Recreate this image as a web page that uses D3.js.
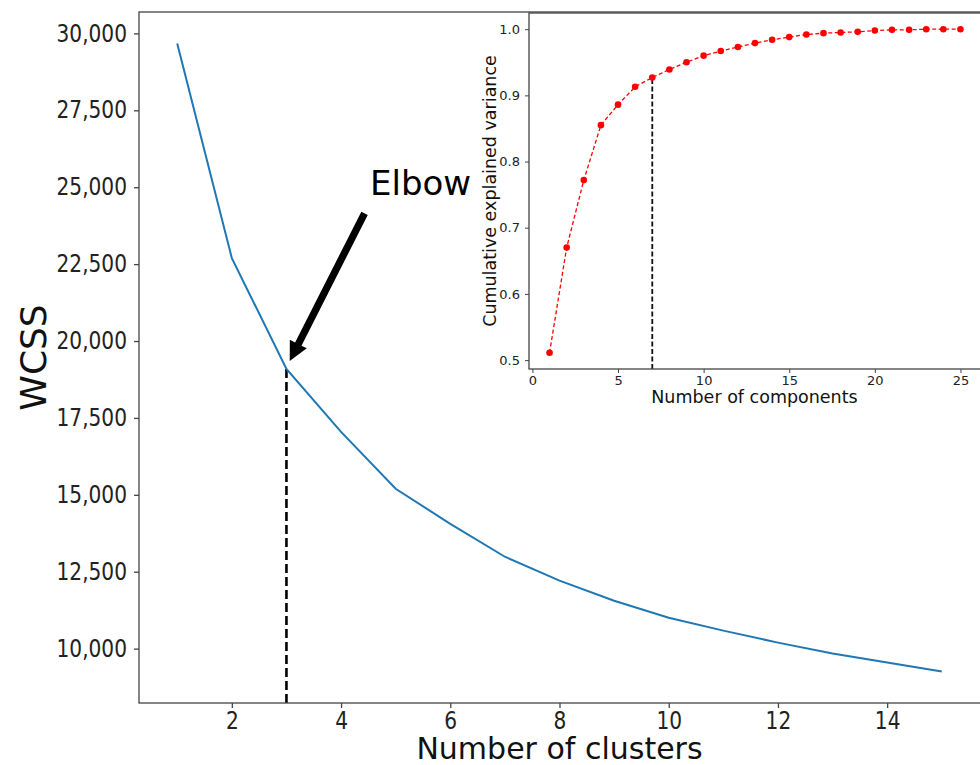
<!DOCTYPE html>
<meta charset="utf-8">
<style>
body { margin: 0; background: #fff; }
svg { display: block; font-family: "DejaVu Sans", sans-serif; }
.axis path, .axis line { stroke: #444; }
.axis text { fill: #222; }
</style>
<body>
<svg id="chart" width="980" height="765"></svg>
<script src="https://cdn.jsdelivr.net/npm/d3@7"></script>
<script>

// elbow curve
var clusters = [1, 2, 3, 4, 5, 6, 7, 8, 9, 10, 11, 12, 13, 14, 15];
var wcss = [29675, 22695, 19091, 17045, 15195, 14058, 12987, 12208, 11558, 11006, 10584, 10195, 9838, 9545, 9253];
var clusterTicks = [2, 4, 6, 8, 10, 12, 14];
var wcssTicks = [10000, 12500, 15000, 17500, 20000, 22500, 25000, 27500, 30000];
var elbowK = 3;

// inset: cumulative explained variance
var components = [1, 2, 3, 4, 5, 6, 7, 8, 9, 10, 11, 12, 13, 14, 15, 16, 17, 18, 19, 20, 21, 22, 23, 24, 25];
var cumVar = [0.511, 0.670, 0.772, 0.855, 0.886, 0.913, 0.927, 0.939, 0.950, 0.960, 0.967, 0.973, 0.979,
              0.984, 0.988, 0.992, 0.994, 0.995, 0.996, 0.998, 0.999, 0.999, 1.0, 1.0, 1.0];
var compTicks = [0, 5, 10, 15, 20, 25];
var varTicks = [0.5, 0.6, 0.7, 0.8, 0.9, 1.0];
var chosenComp = 7;

// annotation (data coords)
var elbowTip = [3.06, 19350], elbowTail = [4.43, 24150], elbowText = [4.53, 24750];

var svg = d3.select("#chart");

// matplotlib-like 5% padding
function pad(ext) { var m = (ext[1] - ext[0]) * 0.05; return [ext[0] - m, ext[1] + m]; }

var main = {left: 139, right: 980, top: 12, bottom: 703};
var x = d3.scaleLinear().domain(pad(d3.extent(clusters))).range([main.left, main.right]);
var y = d3.scaleLinear().domain(pad(d3.extent(wcss))).range([main.bottom, main.top]);

var sx = 0.84; // tick labels in the main chart look horizontally squeezed

var gx = svg.append("g")
    .attr("class", "axis")
    .attr("transform", "translate(0," + main.bottom + ")")
    .call(d3.axisBottom(x).tickValues(clusterTicks).tickSize(5).tickPadding(4).tickSizeOuter(0));
gx.select(".domain").remove();
gx.selectAll("line").attr("stroke-width", 1.3);
gx.selectAll("text")
    .attr("font-size", 24)
    .attr("font-family", "DejaVu Sans")
    .attr("transform", "scale(" + sx + ",1)");

var gy = svg.append("g")
    .attr("class", "axis")
    .attr("transform", "translate(" + main.left + ",0)")
    .call(d3.axisLeft(y).tickValues(wcssTicks).tickFormat(d3.format(",")).tickSize(5).tickSizeOuter(0));
gy.select(".domain").remove();
gy.selectAll("line").attr("stroke-width", 1.3);
gy.selectAll("text")
    .attr("font-size", 24)
    .attr("font-family", "DejaVu Sans")
    .attr("x", -12 / sx)
    .attr("transform", "scale(" + sx + ",1)");

// dashed elbow marker
svg.append("line")
    .attr("x1", x(elbowK)).attr("x2", x(elbowK))
    .attr("y1", main.bottom).attr("y2", y(wcss[clusters.indexOf(elbowK)]))
    .attr("stroke", "#000").attr("stroke-width", 2.6)
    .attr("stroke-dasharray", "9,4");

svg.append("path")
    .datum(clusters.map(function(d, i) { return [d, wcss[i]]; }))
    .attr("fill", "none")
    .attr("stroke", "#1f77b4")
    .attr("stroke-width", 2)
    .attr("d", d3.line().x(function(d) { return x(d[0]); }).y(function(d) { return y(d[1]); }));

// frame (right side runs off the picture)
svg.append("rect")
    .attr("x", main.left).attr("y", main.top)
    .attr("width", main.right + 2 - main.left).attr("height", main.bottom - main.top)
    .attr("fill", "none").attr("stroke", "#444").attr("stroke-width", 1.3);

svg.append("text")
    .attr("x", (main.left + main.right) / 2)
    .attr("y", 759)
    .attr("text-anchor", "middle")
    .attr("font-size", 30)
    .attr("fill", "#111")
    .text("Number of clusters");

svg.append("text")
    .attr("transform", "translate(46," + (main.top + main.bottom) / 2 + ") rotate(-90)")
    .attr("text-anchor", "middle")
    .attr("font-size", 36)
    .attr("fill", "#111")
    .text("WCSS");

// arrow
(function() {
  var x0 = x(elbowTail[0]), y0 = y(elbowTail[1]), x1 = x(elbowTip[0]), y1 = y(elbowTip[1]);
  var dx = x1 - x0, dy = y1 - y0, len = Math.sqrt(dx * dx + dy * dy);
  var ux = dx / len, uy = dy / len, nx = -uy, ny = ux;
  var hw = 3.6, headW = 9.5, headL = 19;
  var bx = x1 - ux * headL, by = y1 - uy * headL;
  var pts = [
    [x0 + nx * hw, y0 + ny * hw],
    [bx + nx * hw, by + ny * hw],
    [bx + nx * headW, by + ny * headW],
    [x1, y1],
    [bx - nx * headW, by - ny * headW],
    [bx - nx * hw, by - ny * hw],
    [x0 - nx * hw, y0 - ny * hw]
  ];
  svg.append("path")
      .attr("d", "M" + pts.map(function(p) { return p.join(","); }).join("L") + "Z")
      .attr("fill", "#000");
})();

svg.append("text")
    .attr("x", x(elbowText[0]))
    .attr("y", y(elbowText[1]))
    .attr("font-size", 34)
    .attr("fill", "#000")
    .text("Elbow");

// ---- inset ----
var ins = {left: 529, right: 981, top: 13, bottom: 369};
var ix = d3.scaleLinear().domain(pad(d3.extent(components))).range([ins.left, ins.right]);
var iy = d3.scaleLinear().domain(pad(d3.extent(cumVar))).range([ins.bottom, ins.top]);

svg.append("rect")
    .attr("x", ins.left).attr("y", ins.top)
    .attr("width", ins.right - ins.left).attr("height", ins.bottom - ins.top)
    .attr("fill", "#fff");

svg.append("line")
    .attr("x1", ix(chosenComp)).attr("x2", ix(chosenComp))
    .attr("y1", ins.bottom).attr("y2", iy(cumVar[components.indexOf(chosenComp)]))
    .attr("stroke", "#111").attr("stroke-width", 1.8)
    .attr("stroke-dasharray", "5,2.5");

svg.append("path")
    .datum(components.map(function(d, i) { return [d, cumVar[i]]; }))
    .attr("fill", "none")
    .attr("stroke", "#ff0000")
    .attr("stroke-width", 1.3)
    .attr("stroke-dasharray", "4,2.5")
    .attr("d", d3.line().x(function(d) { return ix(d[0]); }).y(function(d) { return iy(d[1]); }));

svg.append("g").selectAll("circle")
    .data(components)
  .enter().append("circle")
    .attr("cx", function(d) { return ix(d); })
    .attr("cy", function(d, i) { return iy(cumVar[i]); })
    .attr("r", 3.3)
    .attr("fill", "#ff0000");

var igx = svg.append("g")
    .attr("class", "axis")
    .attr("transform", "translate(0," + ins.bottom + ")")
    .call(d3.axisBottom(ix).tickValues(compTicks).tickSize(4).tickPadding(3).tickSizeOuter(0));
igx.select(".domain").remove();
igx.selectAll("text").attr("font-size", 13).attr("font-family", "DejaVu Sans");

var igy = svg.append("g")
    .attr("class", "axis")
    .attr("transform", "translate(" + ins.left + ",0)")
    .call(d3.axisLeft(iy).tickValues(varTicks).tickFormat(d3.format(".1f")).tickSize(4).tickPadding(5).tickSizeOuter(0));
igy.select(".domain").remove();
igy.selectAll("text").attr("font-size", 13).attr("font-family", "DejaVu Sans");

svg.append("rect")
    .attr("x", ins.left).attr("y", ins.top)
    .attr("width", ins.right - ins.left).attr("height", ins.bottom - ins.top)
    .attr("fill", "none").attr("stroke", "#444").attr("stroke-width", 1.3);

svg.append("text")
    .attr("x", (ins.left + 980) / 2)
    .attr("y", 403)
    .attr("text-anchor", "middle")
    .attr("font-size", 17.5)
    .attr("fill", "#111")
    .text("Number of components");

svg.append("text")
    .attr("transform", "translate(496," + (ins.top + ins.bottom) / 2 + ") rotate(-90)")
    .attr("text-anchor", "middle")
    .attr("font-size", 17.5)
    .attr("fill", "#111")
    .text("Cumulative explained variance");

</script>
</body>
